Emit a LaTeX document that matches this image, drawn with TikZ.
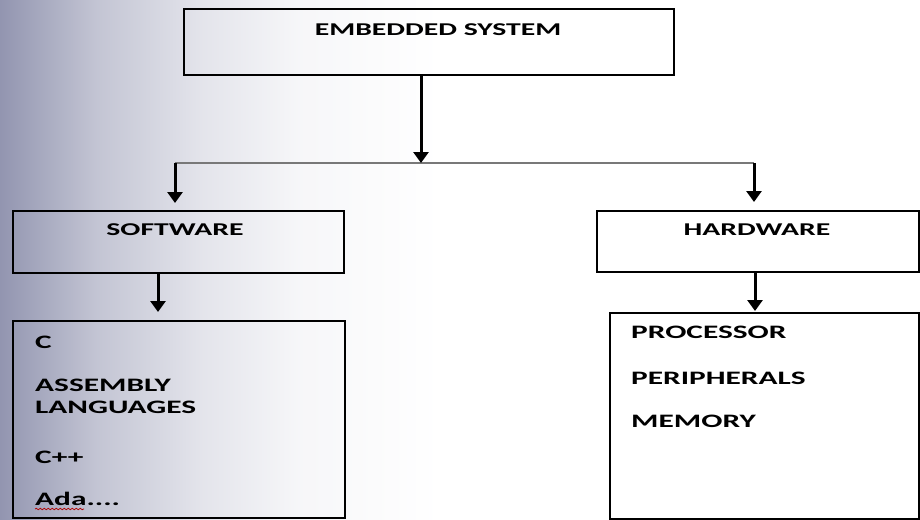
\documentclass[tikz,border=0pt]{standalone}
\usepackage{fontspec}
\usetikzlibrary{arrows.meta,decorations.pathmorphing}
\newfontfamily\boxfont[FakeStretch=1.65]{Carlito}
\definecolor{scanblue}{RGB}{146,149,176}
\definecolor{linkgray}{RGB}{120,120,120}
% soft fade from the left edge towards the page white
\pgfdeclarehorizontalshading{leftfade}{100bp}{
  color(0bp)=(scanblue);
  color(25bp)=(scanblue);
  color(36bp)=(scanblue!55!white);
  color(48bp)=(scanblue!25!white);
  color(59bp)=(scanblue!8!white);
  color(75bp)=(white);
  color(100bp)=(white)}
\begin{document}
\begin{tikzpicture}[x=1pt,y=-1pt,
  box/.style={draw=black,line width=2pt,inner sep=0pt,anchor=north west},
  head/.style={font=\boxfont\bfseries\fontsize{18}{20}\selectfont,anchor=base,inner sep=0pt},
  item/.style={font=\boxfont\bfseries\fontsize{19}{21}\selectfont,anchor=base west,inner sep=0pt},
  arrow/.style={line width=3pt,-{Triangle[width=15pt,length=11pt]}},
  branch/.style={draw=linkgray,line width=1.6pt}]
  % page and shaded left margin
  \fill[white] (0,0) rectangle (920,519);
  \shade[shading=leftfade] (0,0) rectangle (440,519);
  \useasboundingbox (0,0) rectangle (920,519);

  % boxes
  \node[box,minimum width=490pt,minimum height=66pt] (top) at (183,8) {};
  \node[box,minimum width=331pt,minimum height=62pt] (sw) at (12,210) {};
  \node[box,minimum width=322pt,minimum height=61pt] (hw) at (596,210) {};
  \node[box,minimum width=332pt,minimum height=197pt] (swlist) at (12,320) {};
  \node[box,minimum width=309pt,minimum height=206pt] (hwlist) at (609,312) {};

  % headings
  \node[head] (toptext) at (438,36) {EMBEDDED SYSTEM};
  \node[head] (swtext) at (175,235) {SOFTWARE};
  \node[head] (hwtext) at (757,235) {HARDWARE};

  % software items
  \node[item] (c) at (35,348) {C};
  \node[item] (asm) at (35,391) {ASSEMBLY};
  \node[item] (lang) at (35,413) {LANGUAGES};
  \node[item] (cpp) at (35,463) {C++};
  \node[item] (ada) at (35,505) {Ada....};
  \draw[red!70!black,line width=0.8pt,decorate,
        decoration={snake,amplitude=0.7pt,segment length=4pt}]
        (35,509) -- (84,509);

  % hardware items
  \node[item] (cpu) at (631,338) {PROCESSOR};
  \node[item] (per) at (631,384) {PERIPHERALS};
  \node[item] (mem) at (631,427) {MEMORY};

  % connectors
  \coordinate (junction) at (421,163);
  \coordinate (jl) at (175,163);
  \coordinate (jr) at (754,163);
  \draw[branch] (jl) -- (jr);
  \draw[arrow] (top.south -| junction) -- (junction);
  \draw[arrow] (jl) -- ([yshift=7pt]sw.north -| jl);
  \draw[arrow] (jr) -- ([yshift=8pt]hw.north -| jr);
  \coordinate (swdrop) at (158,272);
  \coordinate (hwdrop) at (755,271);
  \draw[arrow] (sw.south -| swdrop) -- ([yshift=8pt]swlist.north -| swdrop);
  \draw[arrow] (hw.south -| hwdrop) -- ([yshift=1pt]hwlist.north -| hwdrop);
\end{tikzpicture}
\end{document}
